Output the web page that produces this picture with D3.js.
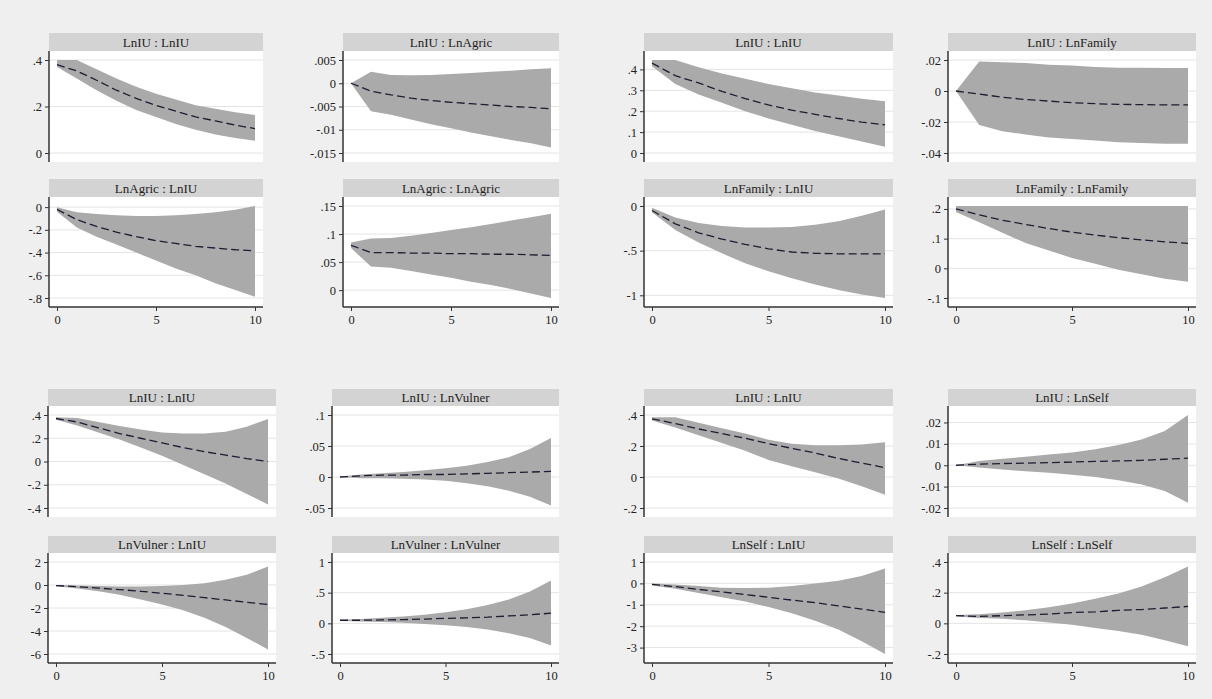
<!DOCTYPE html>
<html>
<head>
<meta charset="utf-8">
<script src="https://cdn.jsdelivr.net/npm/d3@7/dist/d3.min.js"></script>
<style>
  body { margin: 0; background: #efefef; }
  svg { display: block; }
  text { font-family: "Liberation Serif", "DejaVu Serif", serif; fill: #222; }
</style>
</head>
<body>
<script>
var steps = d3.range(0, 11);
var xTicks = [0, 5, 10];

// block 1 : LnIU / LnAgric
var b1IuIu = [.38, .353, .313, .27, .235, .205, .18, .155, .138, .12, .105];
var b1IuIuLo = [.37, .32, .27, .225, .185, .155, .125, .10, .08, .065, .053];
var b1IuIuHi = [.40, .40, .36, .32, .285, .255, .23, .205, .19, .175, .163];
var b1IuIuTicks = [0, .2, .4];

var b1IuAg = [0, -.0017, -.0025, -.0032, -.0037, -.0041, -.0044, -.0047, -.005, -.0052, -.0055];
var b1IuAgLo = [0, -.006, -.0068, -.0078, -.0088, -.0097, -.0106, -.0114, -.0122, -.0129, -.0138];
var b1IuAgHi = [0, .0025, .0018, .0017, .0018, .002, .0022, .0025, .0027, .003, .0032];
var b1IuAgTicks = [-.015, -.01, -.005, 0, .005];

var b1AgIu = [-.02, -.11, -.17, -.22, -.26, -.295, -.32, -.345, -.36, -.375, -.385];
var b1AgIuLo = [-.04, -.18, -.26, -.33, -.40, -.47, -.54, -.60, -.67, -.73, -.79];
var b1AgIuHi = [0, -.045, -.06, -.072, -.078, -.078, -.072, -.06, -.045, -.022, .01];
var b1AgIuTicks = [-.8, -.6, -.4, -.2, 0];

var b1AgAg = [.08, .067, .067, .066, .066, .065, .065, .064, .064, .063, .062];
var b1AgAgLo = [.075, .042, .040, .034, .028, .022, .015, .009, .002, -.006, -.014];
var b1AgAgHi = [.085, .092, .093, .097, .102, .107, .112, .118, .124, .13, .136];
var b1AgAgTicks = [0, .05, .1, .15];

// block 2 : LnIU / LnFamily
var b2IuIu = [.43, .37, .335, .295, .26, .23, .205, .185, .165, .148, .135];
var b2IuIuLo = [.415, .33, .28, .24, .20, .165, .135, .105, .08, .055, .03];
var b2IuIuHi = [.445, .445, .41, .38, .355, .33, .31, .29, .275, .26, .248];
var b2IuIuTicks = [0, .1, .2, .3, .4];

var b2IuFa = [0, -.002, -.004, -.0055, -.0065, -.0075, -.0082, -.0086, -.0088, -.009, -.009];
var b2IuFaLo = [0, -.022, -.026, -.028, -.03, -.031, -.032, -.033, -.0335, -.034, -.034];
var b2IuFaHi = [0, .019, .0185, .018, .017, .0165, .0155, .015, .015, .0148, .0148];
var b2IuFaTicks = [-.04, -.02, 0, .02];

var b2FaIu = [-.05, -.2, -.3, -.37, -.43, -.48, -.515, -.53, -.535, -.535, -.535];
var b2FaIuLo = [-.07, -.27, -.41, -.53, -.64, -.73, -.81, -.88, -.94, -.99, -1.03];
var b2FaIuHi = [-.02, -.13, -.19, -.225, -.24, -.24, -.235, -.21, -.17, -.11, -.04];
var b2FaIuTicks = [-1, -.5, 0];

var b2FaFa = [.2, .18, .162, .148, .134, .122, .112, .103, .096, .089, .084];
var b2FaFaLo = [.19, .155, .12, .085, .06, .035, .015, -.005, -.02, -.035, -.045];
var b2FaFaHi = [.21, .21, .21, .21, .21, .21, .21, .21, .21, .21, .21];
var b2FaFaTicks = [-.1, 0, .1, .2];

// block 3 : LnIU / LnVulner
var b3IuIu = [.37, .34, .29, .24, .2, .16, .12, .085, .055, .025, 0];
var b3IuIuLo = [.36, .31, .25, .19, .12, .05, -.03, -.11, -.19, -.28, -.37];
var b3IuIuHi = [.38, .375, .34, .305, .275, .25, .24, .24, .255, .30, .365];
var b3IuIuTicks = [-.4, -.2, 0, .2, .4];

var b3IuVu = [0, .002, .003, .003, .004, .004, .005, .006, .007, .008, .009];
var b3IuVuLo = [0, -.002, -.002, -.003, -.004, -.006, -.01, -.015, -.022, -.032, -.046];
var b3IuVuHi = [.001, .004, .006, .008, .011, .014, .018, .024, .032, .045, .063];
var b3IuVuTicks = [-.05, 0, .05, .1];

var b3VuIu = [-.05, -.15, -.27, -.4, -.55, -.72, -.9, -1.1, -1.3, -1.5, -1.7];
var b3VuIuLo = [-.1, -.3, -.55, -.85, -1.25, -1.7, -2.2, -2.85, -3.65, -4.6, -5.6];
var b3VuIuHi = [0, -.05, -.08, -.12, -.12, -.08, 0, .15, .45, .9, 1.6];
var b3VuIuTicks = [-6, -4, -2, 0, 2];

var b3VuVu = [.05, .05, .055, .06, .07, .08, .09, .1, .12, .14, .165];
var b3VuVuLo = [.04, .03, .02, .01, -.01, -.03, -.06, -.1, -.16, -.24, -.36];
var b3VuVuHi = [.06, .07, .09, .11, .14, .18, .23, .3, .39, .52, .7];
var b3VuVuTicks = [-.5, 0, .5, 1];

// block 4 : LnIU / LnSelf
var b4IuIu = [.375, .345, .31, .28, .25, .215, .185, .155, .12, .09, .06];
var b4IuIuLo = [.365, .32, .27, .22, .17, .11, .07, .03, -.01, -.06, -.115];
var b4IuIuHi = [.385, .385, .35, .315, .28, .24, .215, .205, .205, .21, .225];
var b4IuIuTicks = [-.2, 0, .2, .4];

var b4IuSe = [0, .0005, .0008, .001, .0012, .0015, .0018, .002, .0023, .0028, .0033];
var b4IuSeLo = [0, -.001, -.002, -.0028, -.0035, -.0045, -.0055, -.007, -.009, -.012, -.0175];
var b4IuSeHi = [0, .002, .003, .004, .005, .006, .0075, .0095, .012, .016, .0235];
var b4IuSeTicks = [-.02, -.01, 0, .01, .02];

var b4SeIu = [-.05, -.15, -.28, -.4, -.52, -.65, -.78, -.9, -1.05, -1.2, -1.35];
var b4SeIuLo = [-.1, -.25, -.45, -.65, -.85, -1.1, -1.4, -1.75, -2.15, -2.7, -3.3];
var b4SeIuHi = [0, -.05, -.12, -.2, -.22, -.2, -.12, 0, .12, .35, .7];
var b4SeIuTicks = [-3, -2, -1, 0, 1];

var b4SeSe = [.05, .045, .05, .055, .06, .07, .075, .085, .09, .1, .11];
var b4SeSeLo = [.045, .035, .03, .02, .005, -.01, -.03, -.05, -.075, -.11, -.15];
var b4SeSeHi = [.055, .06, .07, .085, .105, .13, .16, .195, .24, .30, .37];
var b4SeSeTicks = [-.2, 0, .2, .4];

// layout of the four combined graphs (col = [left, right], row = [headerTop, plotTop, plotBottom])
var blocks = [
  { cols: [[49, 263], [343, 559]], rows: [[33, 51, 162], [179, 197, 307]] },
  { cols: [[644, 893], [948, 1196]], rows: [[33, 51, 162], [179, 197, 307]] },
  { cols: [[48, 276], [332, 559]], rows: [[389, 406, 517], [536, 553, 663]] },
  { cols: [[644, 893], [948, 1196]], rows: [[389, 406, 517], [536, 553, 663]] }
];

var panels = [
  { b: 0, c: 0, r: 0, title: "LnIU : LnIU", irf: b1IuIu, lo: b1IuIuLo, hi: b1IuIuHi, ticks: b1IuIuTicks },
  { b: 0, c: 1, r: 0, title: "LnIU : LnAgric", irf: b1IuAg, lo: b1IuAgLo, hi: b1IuAgHi, ticks: b1IuAgTicks },
  { b: 0, c: 0, r: 1, title: "LnAgric : LnIU", irf: b1AgIu, lo: b1AgIuLo, hi: b1AgIuHi, ticks: b1AgIuTicks },
  { b: 0, c: 1, r: 1, title: "LnAgric : LnAgric", irf: b1AgAg, lo: b1AgAgLo, hi: b1AgAgHi, ticks: b1AgAgTicks },
  { b: 1, c: 0, r: 0, title: "LnIU : LnIU", irf: b2IuIu, lo: b2IuIuLo, hi: b2IuIuHi, ticks: b2IuIuTicks },
  { b: 1, c: 1, r: 0, title: "LnIU : LnFamily", irf: b2IuFa, lo: b2IuFaLo, hi: b2IuFaHi, ticks: b2IuFaTicks },
  { b: 1, c: 0, r: 1, title: "LnFamily : LnIU", irf: b2FaIu, lo: b2FaIuLo, hi: b2FaIuHi, ticks: b2FaIuTicks },
  { b: 1, c: 1, r: 1, title: "LnFamily : LnFamily", irf: b2FaFa, lo: b2FaFaLo, hi: b2FaFaHi, ticks: b2FaFaTicks },
  { b: 2, c: 0, r: 0, title: "LnIU : LnIU", irf: b3IuIu, lo: b3IuIuLo, hi: b3IuIuHi, ticks: b3IuIuTicks },
  { b: 2, c: 1, r: 0, title: "LnIU : LnVulner", irf: b3IuVu, lo: b3IuVuLo, hi: b3IuVuHi, ticks: b3IuVuTicks },
  { b: 2, c: 0, r: 1, title: "LnVulner : LnIU", irf: b3VuIu, lo: b3VuIuLo, hi: b3VuIuHi, ticks: b3VuIuTicks },
  { b: 2, c: 1, r: 1, title: "LnVulner : LnVulner", irf: b3VuVu, lo: b3VuVuLo, hi: b3VuVuHi, ticks: b3VuVuTicks },
  { b: 3, c: 0, r: 0, title: "LnIU : LnIU", irf: b4IuIu, lo: b4IuIuLo, hi: b4IuIuHi, ticks: b4IuIuTicks },
  { b: 3, c: 1, r: 0, title: "LnIU : LnSelf", irf: b4IuSe, lo: b4IuSeLo, hi: b4IuSeHi, ticks: b4IuSeTicks },
  { b: 3, c: 0, r: 1, title: "LnSelf : LnIU", irf: b4SeIu, lo: b4SeIuLo, hi: b4SeIuHi, ticks: b4SeIuTicks },
  { b: 3, c: 1, r: 1, title: "LnSelf : LnSelf", irf: b4SeSe, lo: b4SeSeLo, hi: b4SeSeHi, ticks: b4SeSeTicks }
];

var svg = d3.select("body").append("svg")
  .attr("width", 1212)
  .attr("height", 699);

svg.append("rect")
  .attr("width", 1212)
  .attr("height", 699)
  .attr("fill", "#efefef");

// stata style labels: .4, -.005
function fmt(v) {
  return String(v).replace(/^(-?)0\./, "$1.");
}

panels.forEach(function(p) {
  var blk = blocks[p.b];
  var x0 = blk.cols[p.c][0], x1 = blk.cols[p.c][1];
  var hTop = blk.rows[p.r][0], top = blk.rows[p.r][1], bot = blk.rows[p.r][2];

  var yMin = Math.min(d3.min(p.lo), d3.min(p.ticks));
  var yMax = Math.max(d3.max(p.hi), d3.max(p.ticks));

  var x = d3.scaleLinear().domain([0, 10]).range([x0 + 8, x1 - 8]);
  var y = d3.scaleLinear().domain([yMin, yMax]).range([bot - 9, top + 9]);

  var g = svg.append("g");

  // header strip
  g.append("rect")
    .attr("x", x0).attr("y", hTop)
    .attr("width", x1 - x0).attr("height", top - hTop)
    .attr("fill", "#d3d3d3");
  g.append("text")
    .attr("x", (x0 + x1) / 2)
    .attr("y", (hTop + top) / 2 + 4.5)
    .attr("text-anchor", "middle")
    .style("font-size", "13px")
    .text(p.title);

  // plot region
  g.append("rect")
    .attr("x", x0).attr("y", top)
    .attr("width", x1 - x0).attr("height", bot - top)
    .attr("fill", "#ffffff");

  g.selectAll(".grid")
    .data(p.ticks)
    .enter().append("line")
    .attr("x1", x0).attr("x2", x1)
    .attr("y1", function(d) { return y(d); })
    .attr("y2", function(d) { return y(d); })
    .attr("stroke", "#e4e4e4")
    .attr("stroke-width", 1);

  var area = d3.area()
    .x(function(d, i) { return x(steps[i]); })
    .y0(function(d, i) { return y(p.lo[i]); })
    .y1(function(d, i) { return y(p.hi[i]); });

  g.append("path")
    .datum(steps)
    .attr("d", area)
    .attr("fill", "#aaaaaa");

  var line = d3.line()
    .x(function(d, i) { return x(steps[i]); })
    .y(function(d) { return y(d); });

  g.append("path")
    .datum(p.irf)
    .attr("d", line)
    .attr("fill", "none")
    .attr("stroke", "#1d1d33")
    .attr("stroke-width", 1.3)
    .attr("stroke-dasharray", "8,4");

  // y axis
  var yAxis = d3.axisLeft(y)
    .tickValues(p.ticks)
    .tickSize(4)
    .tickPadding(3)
    .tickFormat(fmt);

  var ya = g.append("g")
    .attr("transform", "translate(" + x0 + ",0)")
    .call(yAxis);
  ya.select(".domain").remove();
  ya.append("line")
    .attr("x1", 0).attr("x2", 0)
    .attr("y1", top).attr("y2", bot)
    .attr("stroke", "#333")
    .attr("stroke-width", 1.5);
  ya.selectAll(".tick line").attr("stroke", "#333");
  ya.selectAll("text").style("font-size", "12.5px").attr("fill", "#222");
  ya.attr("font-family", null);

  // x axis only on bottom row
  if (p.r == 1) {
    var xAxis = d3.axisBottom(x)
      .tickValues(xTicks)
      .tickSize(4)
      .tickPadding(4)
      .tickFormat(d3.format("d"));
    var xa = g.append("g")
      .attr("transform", "translate(0," + bot + ")")
      .call(xAxis);
    xa.select(".domain").remove();
    xa.append("line")
      .attr("x1", x0).attr("x2", x1)
      .attr("y1", 0).attr("y2", 0)
      .attr("stroke", "#333")
      .attr("stroke-width", 1.5);
    xa.selectAll(".tick line").attr("stroke", "#333");
    xa.selectAll("text").style("font-size", "12.5px").attr("fill", "#222");
    xa.attr("font-family", null);
  }
});
</script>
</body>
</html>
